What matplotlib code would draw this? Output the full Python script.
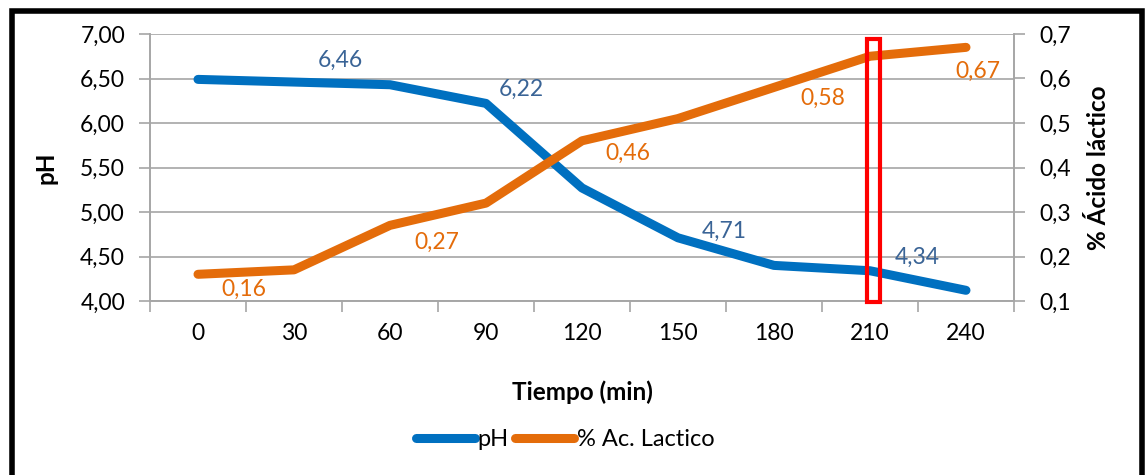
import matplotlib
matplotlib.use('Agg')
import matplotlib.pyplot as plt
import matplotlib.ticker as ticker
from matplotlib.patches import Rectangle

plt.rcParams['font.family'] = ['Lato', 'DejaVu Sans']

#%% Data
tiempo = ['0', '30', '60', '90', '120', '150', '180', '210', '240']
ph = [6.49, 6.46, 6.43, 6.22, 5.27, 4.71, 4.40, 4.34, 4.12]
lactico = [0.16, 0.17, 0.27, 0.32, 0.46, 0.51, 0.58, 0.65, 0.67]

# which points carry a data label
ph_labels = [1, 3, 5, 7]
lac_labels = [0, 2, 4, 6, 8]
highlight = 7  # the 210 min column boxed in red

blue = '#0070C0'
orange = '#E46C0A'
blue_txt = '#3A6496'
grid_c = '#A6A6A6'

def fmt(v, d):
    return f'{v:.{d}f}'.replace('.', ',')

#%% Figure
fig = plt.figure(figsize=(11.46, 4.75), dpi=100)
W, H = 1146, 475
ax = fig.add_axes([150 / W, 1 - 301 / H, 864 / W, 267 / H])
ax2 = ax.twinx()

x = list(range(len(tiempo)))
ax.plot(x, ph, color=blue, lw=6.5, solid_capstyle='round', solid_joinstyle='round', zorder=3, label='pH')
ax2.plot(x, lactico, color=orange, lw=6.5, solid_capstyle='round', solid_joinstyle='round', zorder=3,
         label='% Ac. Lactico')

ax.set_xlim(-0.5, len(tiempo) - 0.5)
ax.set_ylim(4.0, 7.0)
ax2.set_ylim(0.1, 0.7)

ax.yaxis.set_major_locator(ticker.MultipleLocator(0.5))
ax.yaxis.set_major_formatter(ticker.FuncFormatter(lambda v, p: fmt(v, 2)))
ax2.yaxis.set_major_locator(ticker.MultipleLocator(0.1))
ax2.yaxis.set_major_formatter(ticker.FuncFormatter(lambda v, p: fmt(v, 1)))

ax.set_xticks(x)
ax.set_xticklabels(tiempo)
ax.set_xticks([i - 0.5 for i in range(len(tiempo) + 1)], minor=True)
ax.tick_params(axis='x', which='major', length=0, pad=16, labelsize=16.5)
ax.tick_params(axis='x', which='minor', length=8, width=1.2, color=grid_c)
ax.tick_params(axis='y', length=8, width=1.2, color=grid_c, labelsize=16.5, pad=10)
ax2.tick_params(axis='y', length=8, width=1.2, color=grid_c, labelsize=16.5, pad=10)

ax.grid(axis='y', color=grid_c, lw=1.2)
ax.set_axisbelow(True)
for a in (ax, ax2):
    a.spines['top'].set_visible(False)
    for s in ('left', 'right', 'bottom'):
        a.spines[s].set_color(grid_c)
        a.spines[s].set_linewidth(1.2)

ax.set_ylabel('pH', fontsize=17.5, fontweight='bold', labelpad=16)
ax2.set_ylabel('% Ácido láctico', fontsize=17.5, fontweight='bold', labelpad=12)
ax.set_xlabel('Tiempo (min)', fontsize=17.5, fontweight='bold', labelpad=26)

# data labels, offsets in pixels (dx, dy up)
ph_off = {1: (46, 22), 3: (35, 14), 5: (46, 6), 7: (47, 13)}
lac_off = {0: (46, -15), 2: (47, -17), 4: (46, -13), 6: (49, -11), 8: (12, -24)}
for i in ph_labels:
    dx, dy = ph_off[i]
    ax.annotate(fmt(ph[i], 2), (x[i], ph[i]), xytext=(dx * 0.72, dy * 0.72), textcoords='offset points',
                ha='center', va='center', fontsize=16.5, color=blue_txt, zorder=5)
for i in lac_labels:
    dx, dy = lac_off[i]
    ax2.annotate(fmt(lactico[i], 2), (x[i], lactico[i]), xytext=(dx * 0.72, dy * 0.72),
                 textcoords='offset points', ha='center', va='center', fontsize=16.5, color=orange, zorder=5)

# red box around the 210 min column
ax2.add_patch(Rectangle((highlight - 0.03, 0.098), 0.13, 0.59, fill=False, edgecolor='#FF0000',
                        lw=3, zorder=6, clip_on=False))

# legend
h1, l1 = ax.get_legend_handles_labels()
h2, l2 = ax2.get_legend_handles_labels()
fig.legend(h1 + h2, l1 + l2, loc='center', bbox_to_anchor=(565 / W, 1 - 440 / H), ncol=2, frameon=False,
           fontsize=17, handlelength=2.5, handletextpad=0.1, columnspacing=0.3)

# outer black frame
fig.patches.append(Rectangle((12 / W, -0.1), (1142 - 12) / W, 1.1 - 11 / H, transform=fig.transFigure,
                             fill=False, edgecolor='black', lw=4))

fig.savefig('out.png', dpi=100)
